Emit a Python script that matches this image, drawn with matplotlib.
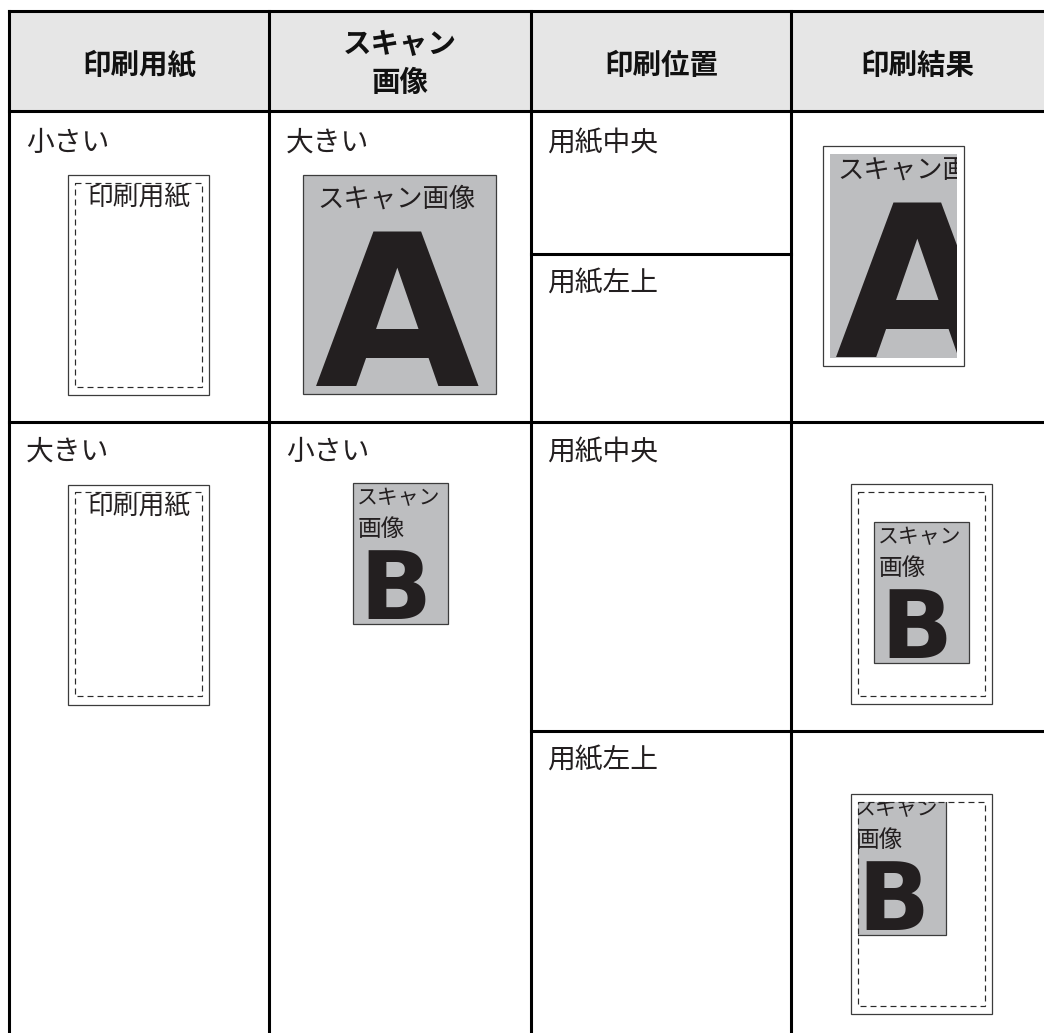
import matplotlib
matplotlib.use('Agg')
import matplotlib.pyplot as plt
from matplotlib.patches import Rectangle
from matplotlib.textpath import TextPath
from matplotlib.font_manager import FontProperties

plt.rcParams['lines.scale_dashes'] = False

# ---------------- content ----------------
headers = ['印刷用紙', 'スキャン\n画像', '印刷位置', '印刷結果']
paper_sizes = ['小さい', '大きい']
image_sizes = ['大きい', '小さい']
positions = ['用紙中央', '用紙左上']
paper_label = '印刷用紙'
image_label_wide = 'スキャン画像'
image_label_narrow = ['スキャン', '画像']
image_letters = ['A', 'B']

# ---------------- layout (pixels) ----------------
W, H, DPI = 1044, 1033, 100
col_x = [9, 269, 531, 791, 1044]
row_y = [11, 111, 422, 1033]
sub_y = [254, 731]
PAPER_W, PAPER_H = 141, 220
LARGE_W, LARGE_H = 192.5, 219
SMALL_W, SMALL_H = 95, 141

CJK = ['Noto Sans CJK JP', 'DejaVu Sans']
INK = '#231f20'
GREY = '#bdbec0'
EDGE = '#3c3c3c'

fig = plt.figure(figsize=(W / DPI, H / DPI), dpi=DPI)
ax = fig.add_axes([0, 0, 1, 1])
ax.set_xlim(0, W)
ax.set_ylim(H, 0)
ax.axis('off')

glyph_prop = FontProperties(family='DejaVu Sans', weight='bold')


def apply_clip(artist, clip):
    if clip is not None:
        artist.set_clip_on(True)
        artist.set_clip_path(clip)


def glyph(ch, left, bottom, height, clip=None):
    tp = TextPath((0, 0), ch, size=100, prop=glyph_prop)
    ext = tp.get_extents()
    fs = height / (ext.height / 100.0 * DPI / 72.0)
    s = fs / 100.0 * DPI / 72.0
    t = ax.text(left - ext.x0 * s, bottom + ext.y0 * s, ch,
                fontproperties=glyph_prop, color=INK, ha='left',
                va='baseline', zorder=5)
    t.set_fontsize(fs)
    apply_clip(t, clip)
    return t


def paper(x, y, label=None, dashed=True, dash_zorder=3):
    ax.add_patch(Rectangle((x, y), PAPER_W, PAPER_H, fc='white', ec=EDGE,
                           lw=0.9, zorder=2))
    if dashed:
        ax.add_patch(Rectangle((x + 7, y + 7.5), PAPER_W - 14, PAPER_H - 16,
                               fc='none', ec='#2a2a2a', lw=0.85,
                               ls=(0, (4.3, 2.9)), zorder=dash_zorder))
    if label:
        ax.text(x + PAPER_W / 2 + 1, y + 23, label, family=CJK, fontsize=18.5,
                color=INK, ha='center', va='center', zorder=4)
    clip = Rectangle((x + 7, y + 7.5), PAPER_W - 14, PAPER_H - 16,
                     transform=ax.transData)
    return clip


def scan_image(x, y, kind, clip=None):
    if kind == 'large':
        w, h = LARGE_W, LARGE_H
    else:
        w, h = SMALL_W, SMALL_H
    r = Rectangle((x, y), w, h, fc=GREY, ec=EDGE, lw=0.9, zorder=3)
    ax.add_patch(r)
    apply_clip(r, clip)
    if kind == 'large':
        t = ax.text(x + 14, y + 24, image_label_wide, family=CJK,
                    fontsize=19, color=INK, ha='left', va='center', zorder=4)
        apply_clip(t, clip)
        glyph(image_letters[0], x + 12.6, y + 210.7, 155, clip)
    else:
        t1 = ax.text(x + 4.5, y + 14.7, image_label_narrow[0], family=CJK,
                     fontsize=15, color=INK, ha='left', va='center', zorder=4)
        t2 = ax.text(x + 4.5, y + 46.5, image_label_narrow[1], family=CJK,
                     fontsize=17, color=INK, ha='left', va='center', zorder=4)
        apply_clip(t1, clip)
        apply_clip(t2, clip)
        glyph(image_letters[1], x + 15.3, y + 136, 69, clip)


# ---------------- table frame ----------------
ax.add_patch(Rectangle((col_x[0], row_y[0]), W - col_x[0] + 5,
                       row_y[1] - row_y[0], fc='#e6e6e6', ec='none', zorder=0))

LW = 2.2
for yy in row_y[:3]:
    ax.plot([col_x[0], W + 5], [yy, yy], color='black', lw=LW,
            solid_capstyle='projecting', zorder=6)
for xx in col_x[:4]:
    ax.plot([xx, xx], [row_y[0], H + 5], color='black', lw=LW,
            solid_capstyle='projecting', zorder=6)
ax.plot([col_x[2], col_x[3]], [sub_y[0], sub_y[0]], color='black', lw=LW,
        solid_capstyle='projecting', zorder=6)
ax.plot([col_x[2], W + 5], [sub_y[1], sub_y[1]], color='black', lw=LW,
        solid_capstyle='projecting', zorder=6)

# ---------------- header ----------------
for i, htxt in enumerate(headers):
    cx = (col_x[i] + col_x[i + 1]) / 2
    if '\n' in htxt:
        a, b = htxt.split('\n')
        ax.text(cx, 45, a, family=CJK, fontsize=20.5, fontweight='bold',
                color='#111111', ha='center', va='center')
        ax.text(cx, 83, b, family=CJK, fontsize=20.5, fontweight='bold',
                color='#111111', ha='center', va='center')
    else:
        ax.text(cx, 66, htxt, family=CJK, fontsize=20.5, fontweight='bold',
                color='#111111', ha='center', va='center')

# ---------------- row labels ----------------
row_text_y = [143, 452]
for r in range(2):
    ax.text(col_x[0] + 17, row_text_y[r], paper_sizes[r], family=CJK,
            fontsize=20, color=INK, ha='left', va='center')
    ax.text(col_x[1] + 17, row_text_y[r], image_sizes[r], family=CJK,
            fontsize=20, color=INK, ha='left', va='center')
ax.text(col_x[2] + 16, 143, positions[0], family=CJK, fontsize=20,
        color=INK, ha='left', va='center')
ax.text(col_x[2] + 16, 283, positions[1], family=CJK, fontsize=20,
        color=INK, ha='left', va='center')
ax.text(col_x[2] + 16, 452, positions[0], family=CJK, fontsize=20,
        color=INK, ha='left', va='center')
ax.text(col_x[2] + 16, 760, positions[1], family=CJK, fontsize=20,
        color=INK, ha='left', va='center')

# ---------------- row 1 drawings ----------------
paper(67.7, 175, paper_label)
scan_image(303.4, 175, 'large')
clip1 = paper(823, 146, dashed=False)
scan_image(823, 146, 'large', clip=clip1)

# ---------------- row 2 drawings ----------------
paper(67.7, 484.5, paper_label)
scan_image(352.7, 483.3, 'small')
px, py = 850.7, 484.3
paper(px, py)
scan_image(px + (PAPER_W - SMALL_W) / 2, py + (PAPER_H - SMALL_H) / 2 - 1.5,
           'small')
px, py = 850.7, 794.3
clip2 = paper(px, py, dash_zorder=7)
scan_image(px, py, 'small', clip=clip2)

fig.savefig('out.png', dpi=DPI, facecolor='white')
